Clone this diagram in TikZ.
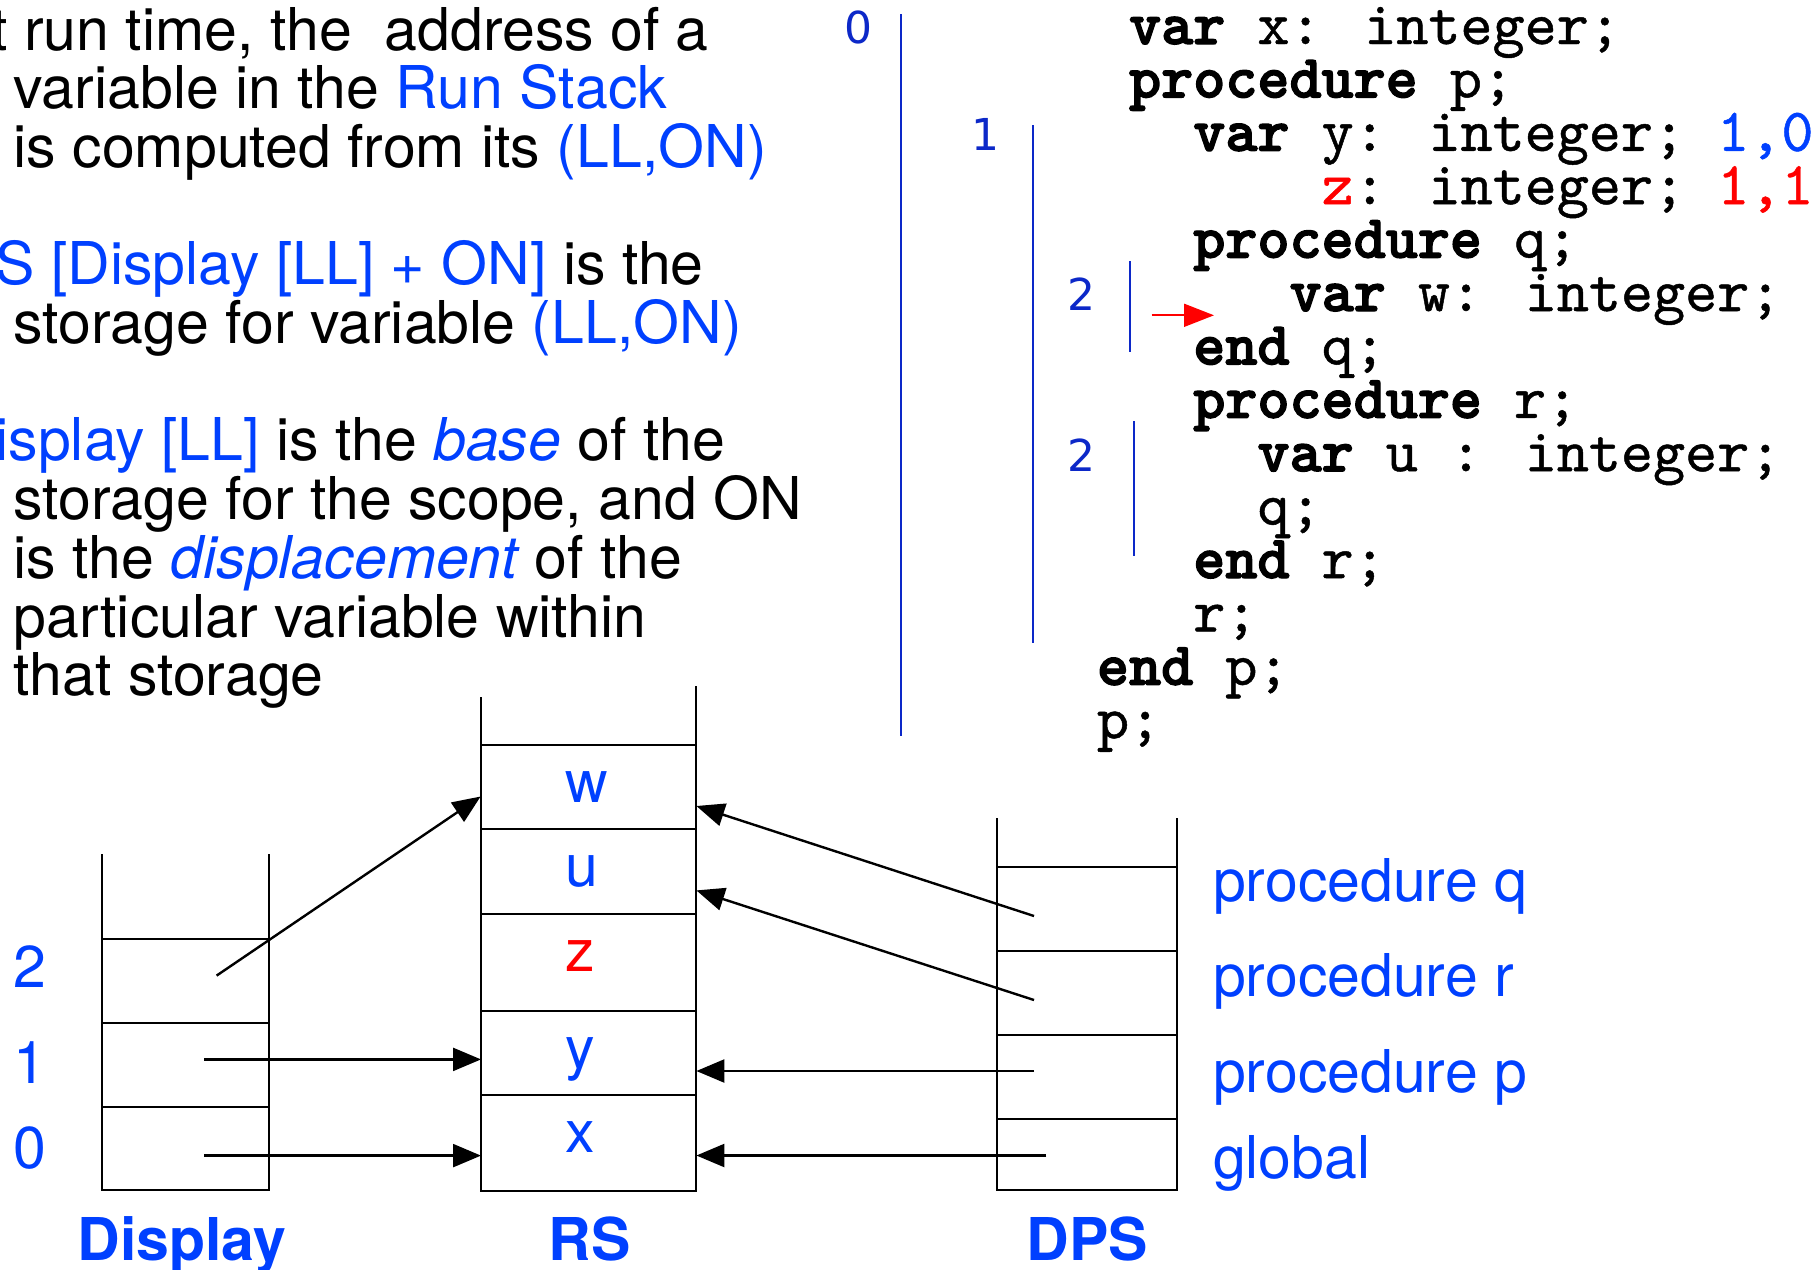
\documentclass[tikz,border=0pt]{standalone}
\usepackage{fontspec}
\setmainfont{TeX Gyre Heros}
\newfontfamily\levelfont{DejaVu Sans}
\newfontfamily\codefont{lmmono10-regular.otf}[BoldFont=lmmonolt10-bold.otf, UprightFeatures={FakeBold=0.8}, BoldFeatures={FakeBold=2.2}]
\usetikzlibrary{arrows.meta}
\definecolor{hiblue}{RGB}{0,64,255}
\definecolor{lvblue}{RGB}{12,40,200}
\definecolor{hired}{RGB}{255,0,0}

\begin{document}
\begin{tikzpicture}[x=1pt,y=-1pt,
  every node/.style={inner sep=0pt, outer sep=0pt},
  prose/.style={anchor=base west, font=\fontsize{59}{59}\selectfont},
  codeline/.style={anchor=base west, text height=40pt, text depth=12pt,
                   font=\codefont\fontsize{61.1}{61.1}\selectfont},
  lvnum/.style={anchor=base west, text=lvblue, font=\levelfont\fontsize{44}{44}\selectfont},
  scopebar/.style={draw=lvblue, line width=2pt},
  stackline/.style={line width=2.6pt, line join=miter},
  cellval/.style={anchor=base west, text=hiblue, font=\fontsize{59}{59}\selectfont},
  stackname/.style={anchor=base west, text=hiblue, font=\bfseries\fontsize{59}{59}\selectfont},
  framename/.style={anchor=base west, text=hiblue, font=\fontsize{59}{59}\selectfont},
  ptr/.style={line width=2.4pt, -{Triangle[length=28pt,width=23pt]}},
  marker/.style={draw=hired, line width=1.8pt, -{Triangle[length=30pt,width=23pt]}}
]
\useasboundingbox (0,0) rectangle (1817,1269);
\clip (0,0) rectangle (1817,1269);

% ---------- explanatory text ----------
\node[prose] (t1)  at (-47,50)    {At run time, the\ \ address of a};
\node[prose] (t2)  at (13.5,108.7) {variable in the {\color{hiblue}Run Stack}};
\node[prose] (t3)  at (13.5,167.4) {is computed from its {\color{hiblue}(LL,ON)}};
\node[prose] (t4)  at (-47,284.8) {{\color{hiblue}RS [Display [LL] + ON]} is the};
\node[prose] (t5)  at (13.5,343.5) {storage for variable {\color{hiblue}(LL,ON)}};
\node[prose] (t6)  at (-47,460.9) {{\color{hiblue}Display [LL]} is the {\color{hiblue}\itshape base} of the};
\node[prose] (t7)  at (13.5,519.6) {storage for the scope, and ON};
\node[prose] (t8)  at (13.5,578.3) {is the {\color{hiblue}\itshape displacement} of the};
\node[prose] (t9)  at (13.5,637)   {particular variable within};
\node[prose] (t10) at (13.5,695.7) {that storage};

% ---------- program text ----------
\node[codeline] (c0)  at (1129.1,44)    {{\bfseries var} x: integer;};
\node[codeline] (c1)  at (1129.1,97.4)  {{\bfseries procedure} p;};
\node[codeline] (c2)  at (1193.3,150.8) {{\bfseries var} y: integer; {\color{hiblue}1,0}};
\node[codeline] (c3)  at (1321.7,204.2) {{\color{hired}z}: integer; {\color{hired}1,1}};
\node[codeline] (c4)  at (1193.3,257.6) {{\bfseries procedure} q;};
\node[codeline] (c5)  at (1289.6,311)   {{\bfseries var} w: integer;};
\node[codeline] (c6)  at (1193.3,364.4) {{\bfseries end} q;};
\node[codeline] (c7)  at (1193.3,417.8) {{\bfseries procedure} r;};
\node[codeline] (c8)  at (1257.5,471.2) {{\bfseries var} u : integer;};
\node[codeline] (c9)  at (1257.5,524.6) {q;};
\node[codeline] (c10) at (1193.3,578)   {{\bfseries end} r;};
\node[codeline] (c11) at (1193.3,631.4) {r;};
\node[codeline] (c12) at (1097,684.8)   {{\bfseries end} p;};
\node[codeline] (c13) at (1097,738.2)   {p;};

% scope levels and their extents
\node[lvnum] (lv0)  at (844,43.3)   {0};
\node[lvnum] (lv1)  at (971.5,150)  {1};
\node[lvnum] (lv2q) at (1067.5,310) {2};
\node[lvnum] (lv2r) at (1067.5,471) {2};
\coordinate (s0a) at (901,14);    \coordinate (s0b) at (901,736);
\coordinate (s1a) at (1033,125);  \coordinate (s1b) at (1033,643);
\coordinate (sqa) at (1130,261);  \coordinate (sqb) at (1130,352);
\coordinate (sra) at (1134,421);  \coordinate (srb) at (1134,556);
\draw[scopebar] (s0a) -- (s0b);
\draw[scopebar] (s1a) -- (s1b);
\draw[scopebar] (sqa) -- (sqb);
\draw[scopebar] (sra) -- (srb);

% current point of execution
\coordinate (pcA) at (1151.7,315.3);
\coordinate (pcB) at (1214,315.3);
\draw[marker] (pcA) -- (pcB);

% ---------- Display ----------
\draw[stackline] (102,854) -- (102,1190) -- (269,1190) -- (269,854);
\draw[stackline] (102,939) -- (269,939);
\draw[stackline] (102,1023) -- (269,1023);
\draw[stackline] (102,1107) -- (269,1107);
\node[cellval] (dl2) at (13,987.5)  {2};
\node[cellval] (dl1) at (13,1083.8) {1};
\node[cellval] (dl0) at (13,1168)   {0};
\node[stackname] (dname) at (77.5,1260) {Display};

% ---------- Run Stack ----------
\draw[stackline] (481,697) -- (481,1191) -- (696,1191) -- (696,686);
\draw[stackline] (481,745) -- (696,745);
\draw[stackline] (481,829) -- (696,829);
\draw[stackline] (481,914) -- (696,914);
\draw[stackline] (481,1011) -- (696,1011);
\draw[stackline] (481,1095) -- (696,1095);
\node[cellval] (rw) at (565.5,802.8) {w};
\node[cellval] (ru) at (565.5,886.6) {u};
\node[cellval, text=hired] (rz) at (565.5,971) {z};
\node[cellval] (ry) at (565.5,1068) {y};
\node[cellval] (rx) at (565.5,1152.6) {x};
\node[stackname] (rname) at (548.5,1260) {RS};

% ---------- Dynamic Pointer Stack ----------
\draw[stackline] (997,818) -- (997,1190) -- (1177,1190) -- (1177,818);
\draw[stackline] (997,867) -- (1177,867);
\draw[stackline] (997,951) -- (1177,951);
\draw[stackline] (997,1035) -- (1177,1035);
\draw[stackline] (997,1119) -- (1177,1119);
\node[framename] (fq) at (1213,901)    {procedure q};
\node[framename] (fr) at (1213,996.7)  {procedure r};
\node[framename] (fp) at (1213,1092.7) {procedure p};
\node[framename] (fg) at (1213,1178.3) {global};
\node[stackname] (pname) at (1026.5,1260) {DPS};

% ---------- pointers ----------
\coordinate (d2) at (216.6,975.6);
\coordinate (d1) at (204.3,1059.4);
\coordinate (d0) at (204.3,1155.6);
\coordinate (wL) at (480.6,796.5);
\coordinate (yL) at (481,1059.4);
\coordinate (xL) at (481,1155.6);
\draw[ptr] (d2) -- (wL);
\draw[ptr] (d1) -- (yL);
\draw[ptr] (d0) -- (xL);

\coordinate (pq) at (1034,916);
\coordinate (pr) at (1034,1000);
\coordinate (pp) at (1034,1071);
\coordinate (pg) at (1046.4,1155.5);
\coordinate (wR) at (696.4,806);
\coordinate (uR) at (696.4,890.4);
\coordinate (yR) at (696.4,1071);
\coordinate (xR) at (696.4,1155.5);
\draw[ptr] (pq) -- (wR);
\draw[ptr] (pr) -- (uR);
\draw[ptr] (pp) -- (yR);
\draw[ptr] (pg) -- (xR);
\end{tikzpicture}
\end{document}
